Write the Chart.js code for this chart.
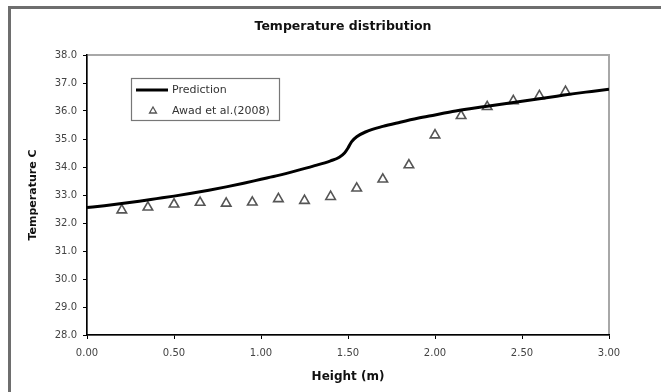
<!DOCTYPE html>
<html lang="en">
<head>
<meta charset="UTF-8">
<title>Temperature distribution</title>
<script src="https://cdn.jsdelivr.net/npm/chart.js@4.4.0/dist/chart.umd.min.js"></script>
<style>
    body { margin: 0; background: #fff; }
</style>
</head>
<body>
<canvas id="chart" width="661" height="392"></canvas>
<script>
    var chartTitle = 'Temperature distribution';
    var xTitle = 'Height (m)';
    var yTitle = 'Temperature C';

    // model curve
    var predLabel = 'Prediction';
    var predX = [0.00, 0.10, 0.20, 0.30, 0.40, 0.50, 0.60, 0.70, 0.80, 0.90, 1.00, 1.10, 1.20, 1.30, 1.40, 1.45, 1.48, 1.50, 1.52, 1.55, 1.60, 1.70, 1.80, 1.90, 2.00, 2.10, 2.20, 2.30, 2.40, 2.50, 2.60, 2.70, 2.80, 2.90, 3.00];
    var predY = [32.55, 32.62, 32.70, 32.78, 32.87, 32.96, 33.06, 33.17, 33.29, 33.42, 33.56, 33.70, 33.86, 34.03, 34.22, 34.35, 34.50, 34.68, 34.90, 35.08, 35.25, 35.45, 35.60, 35.74, 35.86, 35.98, 36.08, 36.17, 36.26, 36.35, 36.44, 36.53, 36.62, 36.70, 36.78];

    // measured points
    var expLabel = 'Awad et al.(2008)';
    var expX = [0.20, 0.35, 0.50, 0.65, 0.80, 0.95, 1.10, 1.25, 1.40, 1.55, 1.70, 1.85, 2.00, 2.15, 2.30, 2.45, 2.60, 2.75];
    var expY = [32.46, 32.56, 32.67, 32.73, 32.70, 32.74, 32.86, 32.80, 32.94, 33.24, 33.56, 34.07, 35.14, 35.83, 36.15, 36.36, 36.54, 36.69];

    var xMin = 0, xMax = 3, xStep = 0.5;
    var yMin = 28, yMax = 38, yStep = 1;

    function pts(xs, ys) {
        return xs.map(function (x, i) { return { x: x, y: ys[i] }; });
    }

    const framePlugin = {
        id: 'frame',
        beforeDraw(chart) {
            const ctx = chart.ctx, a = chart.chartArea;
            ctx.save();
            ctx.fillStyle = '#fff';
            ctx.fillRect(0, 0, chart.width, chart.height);
            // outer frame (only top and left are in view)
            ctx.strokeStyle = '#6e6e6e';
            ctx.lineWidth = 3;
            ctx.beginPath();
            ctx.moveTo(9.5, chart.height);
            ctx.lineTo(9.5, 7.5);
            ctx.lineTo(chart.width, 7.5);
            ctx.stroke();
            // plot area border
            ctx.strokeStyle = '#a8a8a8';
            ctx.lineWidth = 2;
            ctx.strokeRect(a.left, a.top, a.right - a.left, a.bottom - a.top);
            // title
            ctx.fillStyle = '#111';
            ctx.font = 'bold 12.5px "DejaVu Sans"';
            ctx.textAlign = 'center';
            ctx.textBaseline = 'middle';
            ctx.fillText(chartTitle, 343, 27);
            ctx.restore();
        },
        afterDatasetsDraw(chart) {
            // legend box inside the plot
            const ctx = chart.ctx, a = chart.chartArea;
            const bx = a.left + 44, by = a.top + 23, bw = 148, bh = 42;
            const ds = chart.data.datasets;
            ctx.save();
            ctx.fillStyle = '#fff';
            ctx.fillRect(bx, by, bw, bh);
            ctx.strokeStyle = '#777';
            ctx.lineWidth = 1.2;
            ctx.strokeRect(bx + 0.5, by + 0.5, bw, bh);
            ctx.strokeStyle = '#000';
            ctx.lineWidth = 3;
            ctx.beginPath();
            ctx.moveTo(bx + 5, by + 12);
            ctx.lineTo(bx + 37, by + 12);
            ctx.stroke();
            ctx.fillStyle = 'rgba(255,255,255,0)';
            ctx.strokeStyle = '#555';
            ctx.lineWidth = 1.3;
            Chart.helpers.drawPoint(ctx, { pointStyle: 'triangle', radius: 4, borderWidth: 1.3 }, bx + 22, by + 33);
            ctx.fillStyle = '#333';
            ctx.font = '11px "DejaVu Sans"';
            ctx.textAlign = 'left';
            ctx.textBaseline = 'middle';
            ctx.fillText(ds[0].label, bx + 41, by + 12);
            ctx.fillText(ds[1].label, bx + 41, by + 33);
            ctx.restore();
        }
    };

    const ctx = document.getElementById('chart').getContext('2d');
    const myChart = new Chart(ctx, {
        type: 'scatter',
        data: {
            datasets: [{
                label: predLabel,
                data: pts(predX, predY),
                showLine: true,
                cubicInterpolationMode: 'monotone',
                borderColor: '#000',
                borderWidth: 3,
                pointRadius: 0,
                fill: false
            }, {
                label: expLabel,
                data: pts(expX, expY),
                showLine: false,
                pointStyle: 'triangle',
                pointRadius: 5.5,
                pointBorderWidth: 1.6,
                pointBorderColor: '#555',
                pointBackgroundColor: 'rgba(255,255,255,0)'
            }]
        },
        options: {
            responsive: false,
            animation: false,
            devicePixelRatio: 1,
            layout: { padding: { top: 55, right: 52, left: 0, bottom: 0 } },
            plugins: {
                legend: { display: false },
                title: { display: false },
                tooltip: { enabled: false }
            },
            scales: {
                x: {
                    type: 'linear',
                    min: xMin,
                    max: xMax,
                    afterFit: function (s) { s.height = 57; },
                    ticks: {
                        stepSize: xStep,
                        padding: 8,
                        color: '#444',
                        font: { family: 'DejaVu Sans', size: 10 },
                        callback: function (v) { return v.toFixed(2); }
                    },
                    grid: { drawOnChartArea: false, drawTicks: true, tickLength: 4, color: '#000' },
                    border: { color: '#000', width: 1.5 },
                    title: {
                        display: true,
                        text: xTitle,
                        color: '#111',
                        font: { family: 'DejaVu Sans', size: 12, weight: 'bold' },
                        padding: { top: 4, bottom: 8 }
                    }
                },
                y: {
                    min: yMin,
                    max: yMax,
                    afterFit: function (s) { s.width = 87; },
                    ticks: {
                        stepSize: yStep,
                        padding: 6,
                        color: '#444',
                        font: { family: 'DejaVu Sans', size: 10 },
                        callback: function (v) { return v.toFixed(1); }
                    },
                    grid: { drawOnChartArea: false, drawTicks: true, tickLength: 4, color: '#000' },
                    border: { color: '#000', width: 1.5 },
                    title: {
                        display: true,
                        text: yTitle,
                        color: '#111',
                        font: { family: 'DejaVu Sans', size: 11, weight: 'bold' },
                        padding: { top: 27, bottom: 0 }
                    }
                }
            }
        },
        plugins: [framePlugin]
    });
</script>
</body>
</html>
